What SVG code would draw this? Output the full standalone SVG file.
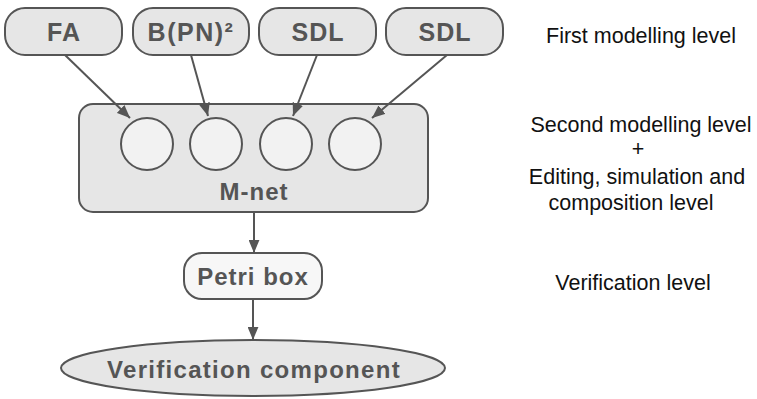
<svg xmlns="http://www.w3.org/2000/svg" width="757" height="399" viewBox="0 0 757 399">
<style>
.box{fill:#e6e6e6;stroke:#555;stroke-width:2}
.wbox{fill:#f7f7f7;stroke:#555;stroke-width:2}
.place{fill:#f2f2f2;stroke:#555;stroke-width:2}
.lbl{font-family:"Liberation Sans",Arial,sans-serif;font-weight:bold;font-size:24px;fill:#555;text-anchor:middle;letter-spacing:1px}
.top{font-size:25px}
.side{font-family:"Liberation Sans",Arial,sans-serif;font-size:21.5px;fill:#111;text-anchor:middle}
.edge{stroke:#555;stroke-width:2;fill:none;marker-end:url(#arr)}
</style>
<defs>
<marker id="arr" viewBox="0 0 12 10" refX="12" refY="5" markerWidth="13" markerHeight="11" markerUnits="userSpaceOnUse" orient="auto">
<path d="M0,0 L12,5 L0,10 z" fill="#555"/>
</marker>
</defs>
<rect width="757" height="399" fill="#fff"/>
<g id="fa"><rect class="box" x="5" y="8" width="117" height="47" rx="20"/><text class="lbl top" x="64" y="41">FA</text></g>
<g id="bpn"><rect class="box" x="133" y="8" width="116" height="47" rx="20"/><text class="lbl top" x="191" y="41" style="letter-spacing:1.5px">B(PN)²</text></g>
<g id="sdl1"><rect class="box" x="259" y="8" width="117" height="47" rx="20"/><text class="lbl top" x="318" y="41">SDL</text></g>
<g id="sdl2"><rect class="box" x="386" y="8" width="117" height="47" rx="20"/><text class="lbl top" x="445" y="41">SDL</text></g>
<g id="mnet">
<rect class="box" x="79" y="104" width="349" height="108" rx="14"/>
<circle class="place" cx="147" cy="144" r="26"/>
<circle class="place" cx="216" cy="144" r="26"/>
<circle class="place" cx="286" cy="144" r="26"/>
<circle class="place" cx="355" cy="144" r="26"/>
<text class="lbl" x="254" y="200">M-net</text>
</g>
<g id="petri"><rect class="wbox" x="184" y="253" width="138" height="46" rx="18"/><text class="lbl" x="253" y="285">Petri box</text></g>
<g id="verif"><ellipse class="box" cx="253" cy="368" rx="192" ry="28"/><text class="lbl" x="254" y="378" style="letter-spacing:1.3px">Verification component</text></g>
<g id="connectors">
<line class="edge" x1="65" y1="55" x2="130" y2="118"/>
<line class="edge" x1="191" y1="55" x2="208" y2="116"/>
<line class="edge" x1="317" y1="55" x2="293" y2="116"/>
<line class="edge" x1="447" y1="55" x2="372" y2="118"/>
<line class="edge" x1="254" y1="212" x2="254" y2="253"/>
<line class="edge" x1="253" y1="299" x2="253" y2="340"/>
</g>
<g id="levels">
<text class="side" x="641" y="43">First modelling level</text>
<text class="side" x="641" y="132">Second modelling level</text>
<text class="side" x="638" y="156">+</text>
<text class="side" x="637" y="184">Editing, simulation and</text>
<text class="side" x="631" y="210">composition level</text>
<text class="side" x="633" y="290">Verification level</text>
</g>
</svg>
